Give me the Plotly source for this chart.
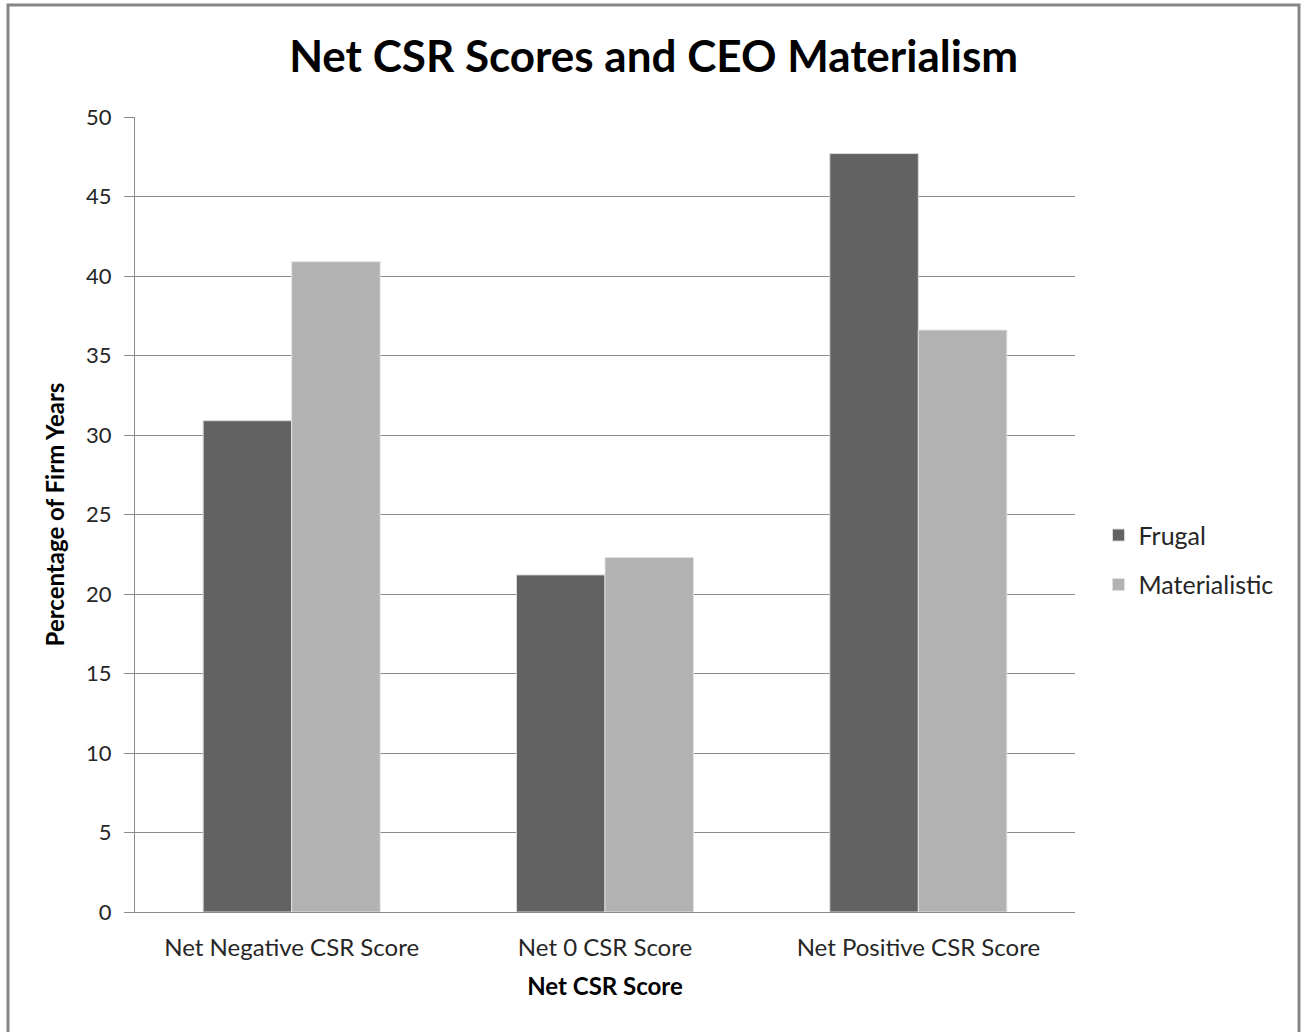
import plotly.graph_objects as go

categories = ["Net Negative CSR Score", "Net 0 CSR Score", "Net Positive CSR Score"]
frugal = [30.9, 21.2, 47.7]
materialistic = [40.9, 22.3, 36.6]
y_ticks = [0, 5, 10, 15, 20, 25, 30, 35, 40, 45, 50]

FONT = "Lato, 'Open Sans', sans-serif"

fig = go.Figure()
fig.add_trace(go.Bar(name="Frugal", x=categories, y=frugal, legendgroup="f",
                     marker=dict(color="#626262", line=dict(color="#d9d9d9", width=1))))
fig.add_trace(go.Bar(name="Materialistic", x=categories, y=materialistic, legendgroup="m",
                     marker=dict(color="#b2b2b2", line=dict(color="#e0e0e0", width=1))))

fig.update_layout(
    width=1302, height=1032,
    margin=dict(l=135, r=227, t=117, b=120),
    paper_bgcolor="white", plot_bgcolor="white",
    barmode="group", bargap=0.435, bargroupgap=0,
    font=dict(family=FONT, color="#262626", size=22),
    title=dict(text="<b>Net CSR Scores and CEO Materialism</b>",
               x=0.502, xref="container", xanchor="center",
               y=1 - 57 / 1032, yref="container", yanchor="middle",
               font=dict(family=FONT, size=44, color="black")),
    legend=dict(x=1.025, xanchor="left", y=0.443, yanchor="middle",
                font=dict(family=FONT, size=25, color="#262626"),
                tracegroupgap=14, itemwidth=30, traceorder="grouped"),
    showlegend=True,
)

fig.update_yaxes(
    range=[0, 50], tickvals=y_ticks, showgrid=True, gridcolor="#8c8c8c", gridwidth=1,
    showline=True, linecolor="#8c8c8c", linewidth=1,
    ticks="outside", ticklen=10, tickcolor="#8c8c8c",
    tickfont=dict(size=22, color="#262626"), ticklabelstandoff=8,
    zeroline=False,
    title=dict(text="<b>Percentage of Firm Years</b>", standoff=14,
               font=dict(size=24, color="black")),
)
fig.update_xaxes(
    showline=True, linecolor="#8c8c8c", linewidth=1,
    tickfont=dict(size=24, color="#262626"), ticks="", ticklabelstandoff=14,
    title=dict(text="<b>Net CSR Score</b>", standoff=18,
               font=dict(size=24, color="black")),
)

fig.add_shape(type="rect", xref="paper", yref="paper",
              x0=(8 - 135) / 940, x1=(1299 - 135) / 940,
              y0=-0.3, y1=(912 - 5) / 795,
              line=dict(color="#868686", width=3), fillcolor="rgba(0,0,0,0)", layer="above")

fig.write_html("out.html")
